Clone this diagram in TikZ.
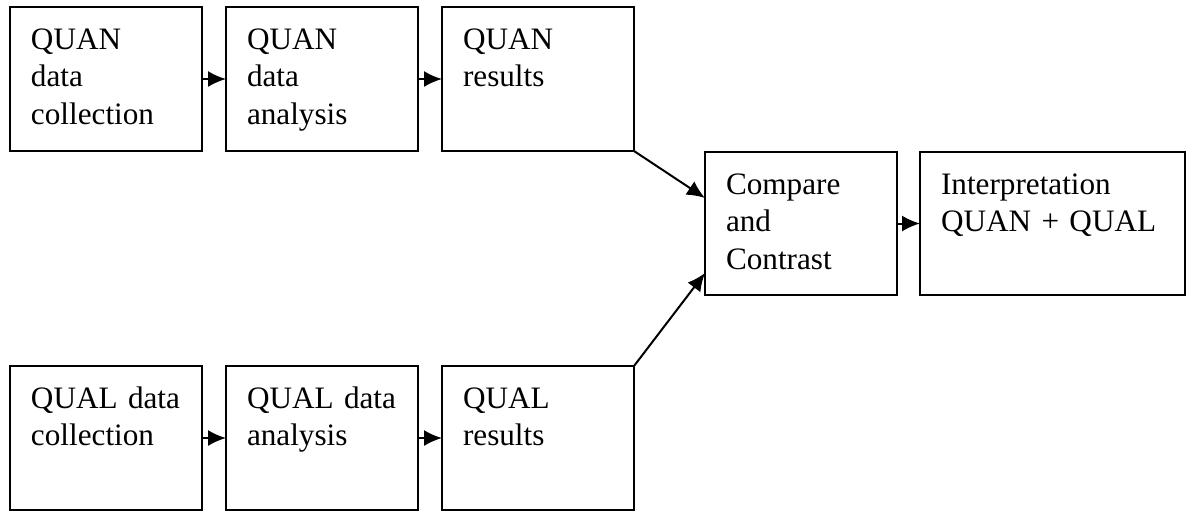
\documentclass[tikz,border=0pt]{standalone}
\usepackage{fontspec}
\setmainfont{Liberation Serif}
\usetikzlibrary{arrows.meta,positioning}

\begin{document}
\begin{tikzpicture}[x=1pt,y=1pt]

	\tikzset{
	stage/.style={draw, line width=1pt, anchor=north west, align=left,
		inner xsep=10.5pt, inner ysep=5pt, outer sep=0pt,
		text width=75pt, text height=16pt, text depth=46pt,
		font=\fontsize{15.6pt}{18.75pt}\selectfont},
	conn/.style={line width=1pt, -{Latex[length=9pt,width=8pt]}}
}

\useasboundingbox (0,0) rectangle (593.5,-255.5);

% QUAN strand
\node[stage](qnc) at (5,-3.5){QUAN\\data\\collection};
\node[stage, right=12pt of qnc](qna){QUAN\\data\\analysis};
\node[stage, right=12pt of qna](qnr){QUAN\\results};

% QUAL strand
\node[stage](qlc) at (5,-183){QUAL data\\collection};
\node[stage, right=12pt of qlc](qla){QUAL data\\analysis};
\node[stage, right=12pt of qla](qlr){QUAL\\results};

% merge
\node[stage, text depth=45.5pt](cmp) at (352.5,-76){Compare\\and\\Contrast};
\node[stage, text width=111.5pt, text depth=45.5pt, right=11.5pt of cmp](itp){Interpretation\\QUAN + QUAL};

\draw[conn] (qnc) -- (qna);
\draw[conn] (qna) -- (qnr);
\draw[conn] (qlc) -- (qla);
\draw[conn] (qla) -- (qlr);
\draw[conn] (qnr.south east) -- ([yshift=-23pt] cmp.north west);
\draw[conn] (qlr.north east) -- ([yshift=11pt] cmp.south west);
\draw[conn] (cmp) -- (itp);

\end{tikzpicture}
\end{document}
